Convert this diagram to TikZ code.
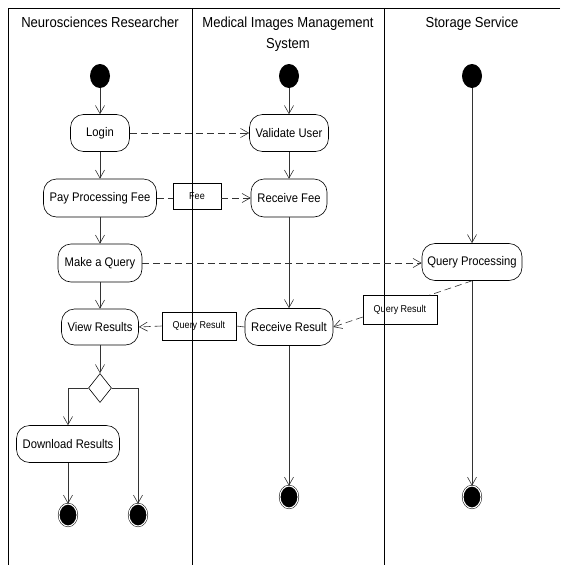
\documentclass[tikz,border=0pt]{standalone}
\usepackage{fontspec}
\setmainfont{Liberation Sans}[FakeStretch=0.9]
\usetikzlibrary{arrows.meta,shapes.geometric}
\begin{document}
\begin{tikzpicture}[x=1pt,y=-1pt,
  lane/.style={line width=0.8pt,draw=black},
  act/.style={draw=black,line width=0.6pt,rounded corners=13pt,inner sep=0pt,font=\fontsize{12.5}{14}\selectfont,align=center},
  objbox/.style={draw=black,line width=0.6pt,inner sep=0pt,font=\fontsize{10}{11}\selectfont},
  startst/.style={ellipse,fill=black,inner sep=0pt,minimum width=20pt,minimum height=24pt},
  endst/.style={ellipse,draw=black,line width=0.5pt,double=white,double distance=1.1pt,fill=black,inner sep=0pt,minimum width=18pt,minimum height=22pt},
  dec/.style={diamond,draw=black,line width=0.6pt,inner sep=0pt,minimum width=23pt,minimum height=29pt},
  hdr/.style={font=\fontsize{14.5}{21}\selectfont,align=center,anchor=north},
  tipv/.tip={Straight Barb[length=8pt,width=9pt,line width=0.6pt]},
  flow/.style={draw=black!80,line width=0.6pt,-tipv},
  line/.style={draw=black!80,line width=0.6pt},
  dflow/.style={draw=black!80,line width=0.6pt,dash pattern=on 7pt off 4pt,-tipv},
  dline/.style={draw=black!80,line width=0.6pt,dash pattern=on 7pt off 4pt}
]
\useasboundingbox (0,0) rectangle (560,565);
% swimlanes
\draw[lane] (560,8) -- (8,8) -- (8,565);
\draw[lane] (192,8) -- (192,565);
\draw[lane] (384,8) -- (384,565);
\node[hdr] (h1) at (100,13) {Neurosciences Researcher};
\node[hdr] (h2) at (288,13) {Medical Images Management\\System};
\node[hdr] (h3) at (472,13) {Storage Service};
% start states
\node[startst] (s1) at (100,76) {};
\node[startst] (s2) at (289,76) {};
\node[startst] (s3) at (472,76) {};
% activities
\node[act,minimum width=59pt,minimum height=37pt] (login) at (100,133) {Login};
\node[act,minimum width=79pt,minimum height=37pt] (validate) at (289,133) {Validate User};
\node[act,minimum width=113pt,minimum height=38pt] (pay) at (100,198) {Pay Processing Fee};
\node[objbox,minimum width=48pt,minimum height=26pt] (fee) at (197,196) {Fee};
\node[act,minimum width=76pt,minimum height=38pt] (recfee) at (289,198) {Receive Fee};
\node[act,minimum width=84pt,minimum height=38pt] (query) at (100,263) {Make a Query};
\node[act,minimum width=100pt,minimum height=37pt] (qproc) at (472,262) {Query Processing};
\node[objbox,minimum width=74pt,minimum height=29pt] (qres2) at (400,310) {Query Result};
\node[act,minimum width=88pt,minimum height=37pt] (recres) at (289,327) {Receive Result};
\node[objbox,minimum width=74pt,minimum height=28pt] (qres1) at (199,326) {Query Result};
\node[act,minimum width=77pt,minimum height=36pt] (view) at (100,327) {View Results};
\node[dec] (dia) at (100,388) {};
\node[act,minimum width=103pt,minimum height=37pt] (down) at (68,444) {Download Results};
% end states
\node[endst] (e1) at (68,515) {};
\node[endst] (e2) at (138,515) {};
\node[endst] (e3) at (289,497) {};
\node[endst] (e4) at (472,497) {};
% control flows
\draw[flow] (s1) -- (login);
\draw[flow] (login) -- (pay);
\draw[flow] (pay) -- (query);
\draw[flow] (query) -- (view);
\draw[flow] (view) -- (dia);
\draw[flow] (dia.west) -| (down.north);
\draw[flow] (dia.east) -| (e2.north);
\draw[flow] (down) -- (e1);
\draw[flow] (s2) -- (validate);
\draw[flow] (validate) -- (recfee);
\draw[flow] (recfee) -- (recres);
\draw[flow] (recres) -- (e3);
\draw[flow] (s3) -- (qproc);
\draw[flow] (qproc) -- (e4);
% object flows
\draw[dflow] (login) -- (validate);
\draw[dline] (pay.east) -- (fee.west |- pay.east);
\draw[dflow] (fee.east |- recfee.west) -- (recfee.west);
\draw[dflow] (query.east) -- (qproc.west |- query.east);
\draw[dline] (qproc.south) -- ([xshift=-8pt]qres2.north east);
\draw[dflow] ([yshift=-7pt]qres2.west) -- (recres.east);
\draw[line] (recres.west) -- (qres1.east);
\draw[dflow] (qres1.west) -- (view.east);
\end{tikzpicture}
\end{document}
